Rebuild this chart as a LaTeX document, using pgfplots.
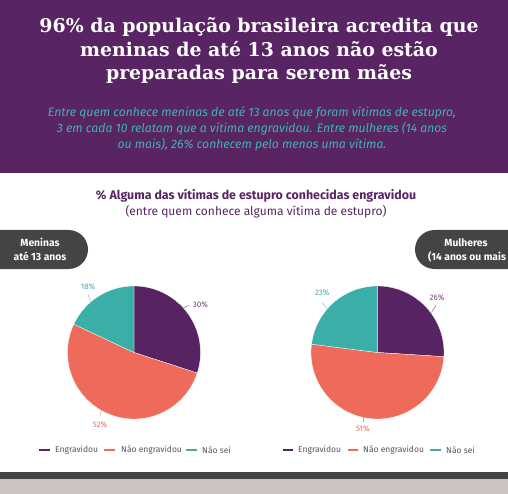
\documentclass[border=0pt]{standalone}
\usepackage{pgfplots}
\pgfplotsset{compat=1.18}
\usepackage{fontspec}
\setmainfont{Fira Sans}
\newfontfamily\titlefont{DejaVu Serif}
\definecolor{hdr}{HTML}{582463}
\definecolor{purp}{HTML}{572363}
\definecolor{coral}{HTML}{EE6A5B}
\definecolor{teal}{HTML}{3AAEA7}
\definecolor{subteal}{HTML}{3DB5AD}
\definecolor{badge}{HTML}{444444}
\definecolor{lightbar}{HTML}{CCC3C3}
\definecolor{legtxt}{HTML}{555555}
\newcommand{\slice}[3]{%
  \addplot[fill=#3, draw=white, line width=0.3pt, domain=#1:#2, samples=80, variable=\t]
    ({sin(3.6*\t)},{cos(3.6*\t)}) -- (axis cs:0,0) -- cycle;}
\pgfplotsset{pie/.style={width=133pt, height=133pt, scale only axis,
  xmin=-1, xmax=1, ymin=-1, ymax=1, hide axis, clip=false, anchor=origin}}
\begin{document}
\begin{tikzpicture}
\begin{scope}[x=1pt,y=-1pt]
\useasboundingbox (0,0) rectangle (508,494);
\fill[hdr] (0,0) rectangle (508,173);
\begin{scope}[every node/.style={text=white, font=\titlefont\bfseries\fontsize{18.9}{23.5}\selectfont, anchor=base}]
\node at (259,33) {96\% da população brasileira acredita que};
\node at (259,56.5) {meninas de até 13 anos não estão};
\node at (259,80) {preparadas para serem mães};
\end{scope}
\begin{scope}[every node/.style={text=subteal, font=\itshape\fontsize{12.2}{15}\selectfont, anchor=base}]
\node at (252,117) {Entre quem conhece meninas de até 13 anos que foram vítimas de estupro,};
\node at (252,133) {3 em cada 10 relatam que a vítima engravidou. Entre mulheres (14 anos};
\node at (252,149) {ou mais), 26\% conhecem pelo menos uma vítima.};
\end{scope}
\node[text=hdr, font=\bfseries\fontsize{12.4}{14}\selectfont, anchor=base] at (256,200)
 {\% Alguma das vítimas de estupro conhecidas engravidou};
\node[text=hdr, font=\fontsize{12}{14}\selectfont, anchor=base] at (256,216)
 {(entre quem conhece alguma vítima de estupro)};
% badges
\fill[badge, rounded corners=19.5pt] (-30,230) rectangle (88,269);
\begin{scope}[every node/.style={text=white, font=\bfseries\fontsize{10.3}{13}\selectfont, anchor=base}]
\node at (40,247) {Meninas};
\node at (40,260.5) {até 13 anos};
\end{scope}
\fill[badge, rounded corners=19.5pt] (415,230) rectangle (560,269);
\begin{scope}[every node/.style={text=white, font=\bfseries\fontsize{10.3}{13}\selectfont}]
\node[anchor=base] at (466,247) {Mulheres};
\node[anchor=base west, inner sep=0] at (428,260.5) {(14 anos ou mais};
\end{scope}
% legends
\begin{scope}[font=\fontsize{8.5}{10}\selectfont, text=legtxt]
\draw[purp, line width=1.6pt] (39,450) -- (50,450);
\node[anchor=west, inner sep=0] at (55,450) {Engravidou};
\draw[coral, line width=1.6pt] (104,450) -- (115,450);
\node[anchor=west, inner sep=0] at (121,450) {Não engravidou};
\draw[teal, line width=1.6pt] (186,450) -- (197,450);
\node[anchor=west, inner sep=0] at (202,450) {Não sei};
\draw[purp, line width=1.6pt] (283,450) -- (293,450);
\node[anchor=west, inner sep=0] at (298,450) {Engravidou};
\draw[coral, line width=1.6pt] (348,450) -- (358,450);
\node[anchor=west, inner sep=0] at (363,450) {Não engravidou};
\draw[teal, line width=1.6pt] (430,450) -- (441,450);
\node[anchor=west, inner sep=0] at (446,450) {Não sei};
\end{scope}
\fill[badge] (0,472) rectangle (508,479);
\fill[lightbar] (0,479) rectangle (508,494);
\end{scope}
% left pie: Engravidou 30, Nao engravidou 52, Nao sei 18
\begin{axis}[pie, at={(134pt,-352.5pt)}]
\slice{0}{30}{purp}
\slice{30}{82}{coral}
\slice{82}{100}{teal}
\draw[teal!80, line width=0.4pt] (axis cs:-0.65,0.76) -- (axis cs:-0.69,0.87);
\node[text=teal, font=\fontsize{8}{9}\selectfont] at (axis cs:-0.69,0.985) {18\%};
\draw[purp!80, line width=0.4pt] (axis cs:0.74,0.67) -- (axis cs:0.83,0.71);
\node[text=purp!85, font=\fontsize{8}{9}\selectfont] at (axis cs:1.0,0.72) {30\%};
\draw[coral!80, line width=0.4pt] (axis cs:-0.49,-0.87) -- (axis cs:-0.51,-0.95);
\node[text=coral, font=\fontsize{8}{9}\selectfont] at (axis cs:-0.51,-1.08) {52\%};
\end{axis}
% right pie: Engravidou 26, Nao engravidou 51, Nao sei 23
\begin{axis}[pie, at={(377.5pt,-352.5pt)}]
\slice{0}{26}{purp}
\slice{26}{77}{coral}
\slice{77}{100}{teal}
\draw[teal!80, line width=0.4pt] (axis cs:-0.76,0.66) -- (axis cs:-0.83,0.75);
\node[text=teal, font=\fontsize{8}{9}\selectfont] at (axis cs:-0.83,0.895) {23\%};
\draw[purp!80, line width=0.4pt] (axis cs:0.81,0.6) -- (axis cs:0.88,0.71);
\node[text=purp!85, font=\fontsize{8}{9}\selectfont] at (axis cs:0.895,0.82) {26\%};
\draw[coral!80, line width=0.4pt] (axis cs:-0.22,-0.975) -- (axis cs:-0.22,-1.04);
\node[text=coral, font=\fontsize{8}{9}\selectfont] at (axis cs:-0.22,-1.15) {51\%};
\end{axis}
\end{tikzpicture}
\end{document}
